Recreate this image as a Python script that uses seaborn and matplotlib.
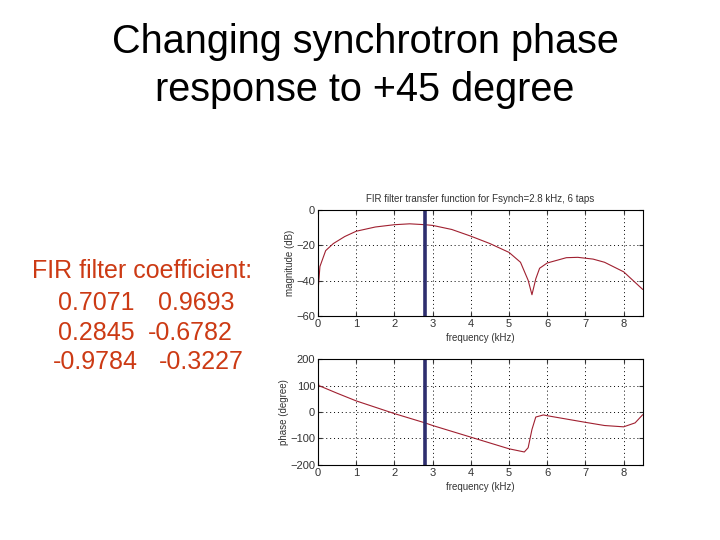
import matplotlib
matplotlib.use("Agg")
import matplotlib.pyplot as plt
import seaborn as sns
import pandas as pd

# ---- data ----
mag_freq = [0.0, 0.05, 0.2, 0.4, 0.7, 1.0, 1.5, 2.0, 2.4, 2.8, 3.0, 3.5, 4.0, 4.5, 5.0,
            5.3, 5.5, 5.6, 5.7, 5.8, 6.0, 6.5, 6.8, 7.2, 7.5, 8.0, 8.5]
mag_db = [-46, -32, -23, -19, -15, -12, -9.6, -8.3, -7.8, -8.3, -8.7, -11, -14.8, -19, -24,
          -29.6, -39.8, -48, -39, -33, -30, -27, -26.8, -27.8, -29.6, -35, -45]

ph_freq = [0.0, 0.02, 0.5, 1.0, 2.0, 2.8, 3.0, 4.0, 5.0, 5.4, 5.5, 5.6, 5.7, 5.9, 6.0,
           7.0, 7.5, 8.0, 8.3, 8.5]
ph_deg = [121, 100, 71, 42, -6, -41, -51, -95, -139, -151, -135, -66, -19, -11, -14,
          -39, -51, -56, -41, -10]

fsynch = 2.8
title_lines = ["Changing synchrotron phase", "response to +45 degree"]
coef_header = "FIR filter coefficient:"
coef_left = ["0.7071", "0.2845", "-0.9784"]
coef_right = ["0.9693", "-0.6782", "-0.3227"]

mag_ticks = [0, -20, -40, -60]
ph_ticks = [200, 100, 0, -100, -200]
x_ticks = list(range(0, 9))

sns.set_style("white")
plt.rcParams['font.family'] = ['Liberation Sans', 'DejaVu Sans']

fig = plt.figure(figsize=(7.2, 5.4), dpi=100)
fig.patch.set_facecolor("white")

fig.text(0.507, 0.922, title_lines[0], ha="center", va="center", fontsize=28.5, color="black")
fig.text(0.507, 0.833, title_lines[1], ha="center", va="center", fontsize=28.5, color="black")

txt_color = "#cc3a14"
fs = 18
fig.text(0.044, 0.498, coef_header, ha="left", va="center", fontsize=fs, color=txt_color)
row_y = [0.439, 0.383, 0.330]
left_x = [0.0806, 0.0806, 0.0736]
right_x = [0.219, 0.2056, 0.221]
for y, lx, rx, lv, rv in zip(row_y, left_x, right_x, coef_left, coef_right):
    fig.text(lx, y, lv, ha="left", va="center", fontsize=fs, color=txt_color)
    fig.text(rx, y, rv, ha="left", va="center", fontsize=fs, color=txt_color)

ax1 = fig.add_axes([0.4417, 0.415, 0.451, 0.196])
ax2 = fig.add_axes([0.4417, 0.139, 0.451, 0.196])

df_mag = pd.DataFrame({"f": mag_freq, "v": mag_db})
df_ph = pd.DataFrame({"f": ph_freq, "v": ph_deg})

line_color = "#a02030"
sns.lineplot(data=df_mag, x="f", y="v", ax=ax1, color=line_color, linewidth=0.8)
sns.lineplot(data=df_ph, x="f", y="v", ax=ax2, color=line_color, linewidth=0.8)

for ax, ticks, lim, ylabel in [(ax1, mag_ticks, (-60, 0), "magnitude (dB)"),
                                (ax2, ph_ticks, (-200, 200), "phase (degree)")]:
    ax.axvline(fsynch, color="#2e2e6e", linewidth=2.6)
    ax.set_xlim(0, 8.5)
    ax.set_ylim(*lim)
    ax.set_xticks(x_ticks)
    ax.set_yticks(ticks)
    ax.grid(True, linestyle=(0, (1, 3)), color="black", linewidth=0.7)
    ax.tick_params(direction="in", length=3, labelsize=8, colors="#333333",
                   top=True, right=True, bottom=True, left=True, pad=2)
    for s in ax.spines.values():
        s.set_color("black")
        s.set_linewidth(0.8)
    ax.set_xlabel("frequency (kHz)", fontsize=7, color="#333333", labelpad=3)
    ax.set_ylabel(ylabel, fontsize=7, color="#333333", labelpad=1)

ax1.set_title("FIR filter transfer function for Fsynch=2.8 kHz, 6 taps", fontsize=7,
              color="#333333", pad=6)

fig.savefig("out.png", dpi=100, facecolor="white")
